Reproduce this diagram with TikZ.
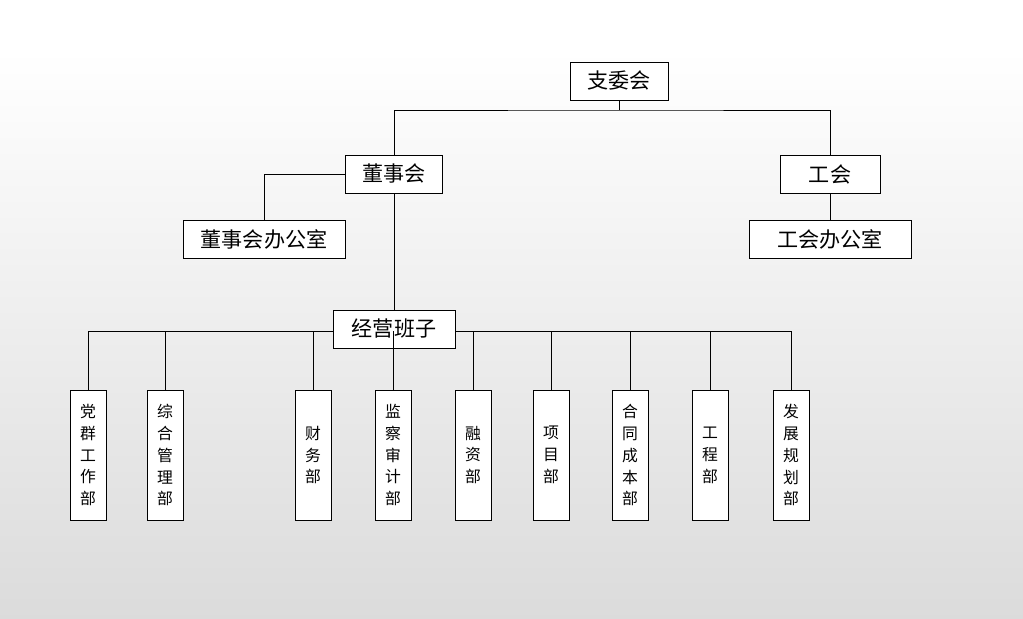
\documentclass[tikz,border=0pt]{standalone}
\usepackage{fontspec}
\setmainfont{Noto Sans CJK SC}
\usepackage{tikz}
\tikzset{
  topbox/.style={draw, fill=white, minimum height=0.76cm, font=\fontsize{12}{14}\selectfont},
  deptbox/.style={draw, fill=white, minimum width=0.72cm, minimum height=2.6cm, align=center, inner sep=1pt, font=\fontsize{9}{12.5}\selectfont}
}
\begin{document}
\begin{tikzpicture}[x=0.02cm,y=-0.02cm]
            \shade [top color=white, bottom color=black!14] (0,50) rectangle (1023,618);
            \fill [white] (0,0) rectangle (1023,50);
            \useasboundingbox (0,0) rectangle (1023,618);

            \node [topbox, minimum width=1.96cm] (zwh) at (619,81) {支委会};
            \node [topbox, minimum width=1.94cm] (dsh) at (394,174) {董事会};
            \node [topbox, minimum width=2cm] (gh) at (830,174) {工会};
            \node [topbox, minimum width=3.24cm] (dshbgs) at (264,239) {董事会办公室};
            \node [topbox, minimum width=3.24cm] (ghbgs) at (830,239) {工会办公室};

            \coordinate (zwhj) at (619,110);
            \draw (zwh) -- (zwhj);
            \draw (dsh.north) |- (zwhj) -| (gh.north);
            \draw (dsh.west) -| (dshbgs.north);
            \draw (gh) -- (ghbgs);

            % departments
            \coordinate (barl) at (88,331);
            \coordinate (barr) at (791,331);
            \draw (barl) -- (barr);
            \draw (dsh) -- (394,312);
            \node [topbox, minimum width=2.44cm] (jybz) at (394,329) {经营班子};

            \foreach \x/\name/\txt in {88/dq/党\\群\\工\\作\\部, 165/zh/综\\合\\管\\理\\部, 313/cw/财\\务\\部,
                393/jc/监\\察\\审\\计\\部, 473/rz/融\\资\\部, 551/xm/项\\目\\部, 630/ht/合\\同\\成\\本\\部,
                710/gc/工\\程\\部, 791/fz/发\\展\\规\\划\\部}{
              \node [deptbox] (\name) at (\x,455) {\txt};
              \draw (\name.north) -- (\x,331);
            }
        \end{tikzpicture}
\end{document}
